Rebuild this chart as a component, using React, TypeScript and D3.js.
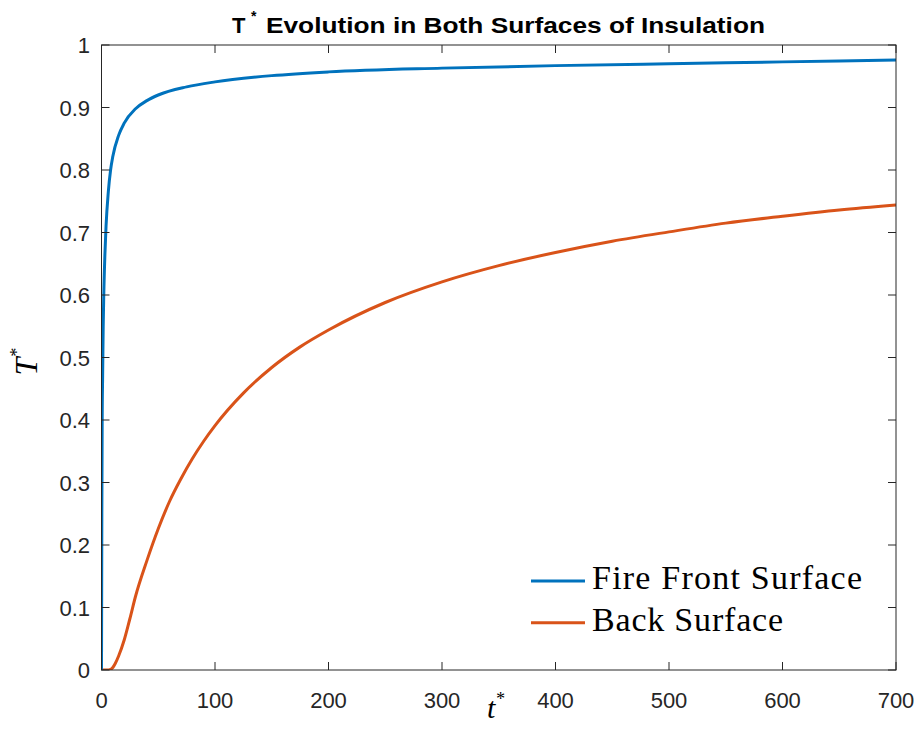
import React from "react";
import * as d3 from "d3";

const frontTime = [0, 0.3, 0.6, 1, 1.5, 2, 3, 4, 6, 8, 10, 15, 20, 30, 40, 50, 75, 100, 150, 200, 300, 400, 500, 600, 700];
const frontTemp = [0, 0.25, 0.4, 0.47, 0.55, 0.6, 0.665, 0.71, 0.765, 0.8, 0.822, 0.855, 0.875, 0.898, 0.911, 0.92, 0.933, 0.941, 0.951, 0.957, 0.963, 0.967, 0.97, 0.973, 0.976];

const backTime = [0, 5, 8, 10, 12, 15, 20, 25, 30, 40, 50, 60, 70, 80, 90, 100, 125, 150, 175, 200, 250, 300, 350, 400, 450, 500, 550, 600, 650, 700];
const backTemp = [0, 0, 0.001, 0.004, 0.01, 0.022, 0.048, 0.082, 0.118, 0.175, 0.226, 0.27, 0.306, 0.338, 0.366, 0.391, 0.443, 0.484, 0.517, 0.544, 0.588, 0.621, 0.647, 0.668, 0.686, 0.701, 0.715, 0.726, 0.736, 0.744];

const xTicks = [0, 100, 200, 300, 400, 500, 600, 700];
const yTicks = [0, 0.1, 0.2, 0.3, 0.4, 0.5, 0.6, 0.7, 0.8, 0.9, 1];
const yTickLabels = ["0", "0.1", "0.2", "0.3", "0.4", "0.5", "0.6", "0.7", "0.8", "0.9", "1"];

const seriesNames = ["Fire Front Surface", "Back Surface"];
const seriesColors = ["#0072BD", "#D95319"];

const W = 919;
const H = 749;
const L = 101.5, R = 896, T = 45, B = 670;

export default function App() {
  const x = d3.scaleLinear().domain([0, 700]).range([L, R]);
  const y = d3.scaleLinear().domain([0, 1]).range([B, T]);
  const line = d3
    .line<[number, number]>()
    .x((d) => x(d[0]))
    .y((d) => y(d[1]))
    .curve(d3.curveMonotoneX);
  const front: [number, number][] = frontTime.map((t, i) => [t, frontTemp[i]]);
  const back: [number, number][] = backTime.map((t, i) => [t, backTemp[i]]);
  const axisColor = "#262626";
  const tickLen = 8;
  const sans = "'Liberation Sans', Arial, sans-serif";
  const serif = "'Liberation Serif', 'Times New Roman', serif";

  return (
    <svg width={W} height={H} style={{ position: "absolute", left: 0, top: 0, background: "#fff" }}>
      <rect x={0} y={0} width={W} height={H} fill="#fff" />
      <defs>
        <clipPath id="plotclip">
          <rect x={L} y={T} width={R - L} height={B - T} />
        </clipPath>
      </defs>
      <g clipPath="url(#plotclip)">
        <path d={line(back) || ""} fill="none" stroke={seriesColors[1]} strokeWidth={3} strokeLinejoin="round" />
        <path d={line(front) || ""} fill="none" stroke={seriesColors[0]} strokeWidth={3} strokeLinejoin="round" />
      </g>
      <rect x={L} y={T} width={R - L} height={B - T} fill="none" stroke={axisColor} strokeWidth={1} />
      {xTicks.map((t) => (
        <g key={"x" + t}>
          <line x1={x(t)} x2={x(t)} y1={B} y2={B - tickLen} stroke={axisColor} strokeWidth={1} />
          <line x1={x(t)} x2={x(t)} y1={T} y2={T + tickLen} stroke={axisColor} strokeWidth={1} />
          <text x={x(t)} y={707.5} textAnchor="middle" fontFamily={sans} fontSize={22} fill={axisColor}>
            {t}
          </text>
        </g>
      ))}
      {yTicks.map((t, i) => (
        <g key={"y" + t}>
          <line x1={L} x2={L + tickLen} y1={y(t)} y2={y(t)} stroke={axisColor} strokeWidth={1} />
          <line x1={R} x2={R - tickLen} y1={y(t)} y2={y(t)} stroke={axisColor} strokeWidth={1} />
          <text x={90} y={y(t) + 8} textAnchor="end" fontFamily={sans} fontSize={22} fill={axisColor}>
            {yTickLabels[i]}
          </text>
        </g>
      ))}
      <g fontFamily={sans} fontWeight="bold" fill="#000">
        <text x={232} y={33} fontSize={22}>T</text>
        <text x={251} y={21} fontSize={14}>*</text>
        <text x={266} y={33} fontSize={22} textLength={499} lengthAdjust="spacingAndGlyphs">
          Evolution in Both Surfaces of Insulation
        </text>
      </g>
      <text x={487} y={718} fontFamily={serif} fontStyle="italic" fontSize={30} fill="#000">
        t<tspan fontSize={18} dy={-13}>*</tspan>
      </text>
      <text
        transform="translate(37,362) rotate(-90)"
        textAnchor="middle"
        fontFamily={serif}
        fontStyle="italic"
        fontSize={32}
        fill="#000"
      >
        T<tspan fontSize={18} dy={-14}>*</tspan>
      </text>
      {seriesNames.map((n, i) => (
        <g key={n}>
          <line x1={531} x2={585} y1={581 + i * 41.7} y2={581 + i * 41.7} stroke={seriesColors[i]} strokeWidth={3} />
          <text
            x={592}
            y={589 + i * 42}
            fontFamily={serif}
            fontSize={34}
            fill="#000"
            textLength={i === 0 ? 270 : 191}
            lengthAdjust="spacing"
          >
            {n}
          </text>
        </g>
      ))}
    </svg>
  );
}
